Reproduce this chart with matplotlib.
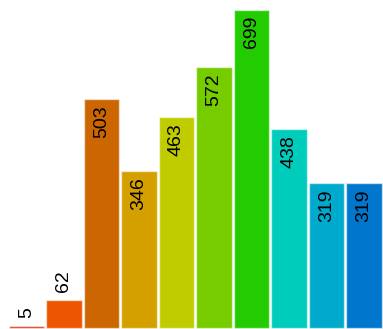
import matplotlib
matplotlib.use("Agg")
import matplotlib.pyplot as plt

# valeurs
valeurs = [5, 62, 503, 346, 463, 572, 699, 438, 319, 319]
couleurs = ["#d43000", "#ee5500", "#cc6600", "#d4a000", "#c0cc00",
            "#77cc00", "#22cc00", "#00ccbb", "#00aacc", "#0077cc"]

fig = plt.figure(figsize=(3.83, 3.29), dpi=100)
ax = fig.add_axes([0, 0, 1, 1])

x = range(len(valeurs))
ax.bar(x, valeurs, width=0.94, color=couleurs,
       edgecolor=(1, 1, 1, 0.55), linewidth=1.0)

for i, v in zip(x, valeurs):
    if v > 100:
        ax.annotate(str(v), (i, v), xytext=(0, -4.5), textcoords="offset points",
                    rotation=90, ha="center", va="top",
                    fontsize=14, family="Liberation Sans")
    else:
        ax.annotate(str(v), (i, v), xytext=(0, 5.5), textcoords="offset points",
                    rotation=90, ha="center", va="bottom",
                    fontsize=14, family="Liberation Sans")

ax.set_xlim(-0.7067, 9.507)
ax.set_ylim(-1.5, 720)
ax.axis("off")

fig.savefig("out.png", dpi=100)
